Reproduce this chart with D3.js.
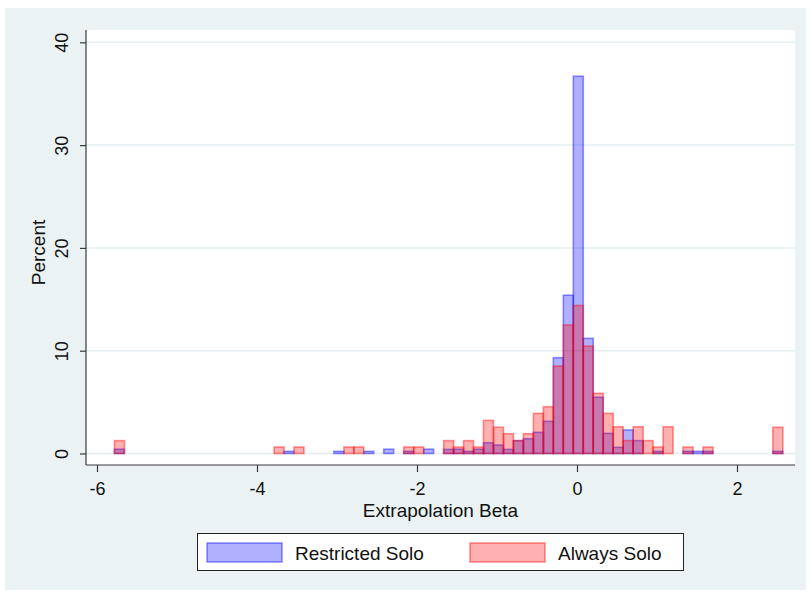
<!DOCTYPE html>
<html>
<head>
<meta charset="utf-8">
<script src="https://cdn.jsdelivr.net/npm/d3@7"></script>
<style>
  html, body { margin: 0; padding: 0; background: #ffffff; }
  svg { display: block; font-family: "Liberation Sans", Arial, Helvetica, sans-serif; }
</style>
</head>
<body>
<svg id="chart" width="810" height="594"></svg>
<script>
// Histogram bins (left edge of each non-empty bin, in beta units)
const binWidth = 0.1247;
const binLeft = [-5.782, -3.787, -3.662, -3.538, -3.039, -2.914, -2.790, -2.665, -2.416, -2.166,
                 -2.041, -1.917, -1.667, -1.543, -1.418, -1.293, -1.169, -1.044, -0.919, -0.795,
                 -0.670, -0.545, -0.420, -0.296, -0.171, -0.046, 0.078, 0.203, 0.328, 0.452,
                 0.577, 0.702, 0.826, 0.951, 1.076, 1.325, 1.450, 1.575, 2.448];

// Percent of observations in each bin
const restrictedSolo = [0.42, 0, 0.21, 0, 0.21, 0, 0, 0.21, 0.42, 0.21,
                        0, 0.42, 0.40, 0.42, 0.21, 0.42, 1.05, 0.83, 0.40, 1.25,
                        1.44, 2.06, 3.13, 9.32, 15.4, 36.7, 11.2, 5.47, 1.96, 0.60,
                        2.29, 1.25, 0, 0.21, 0, 0.21, 0.21, 0.21, 0.21];
const alwaysSolo     = [1.25, 0.63, 0, 0.63, 0, 0.63, 0.63, 0, 0, 0.63,
                        0.63, 0, 1.25, 0.63, 1.25, 0.63, 3.22, 2.55, 1.93, 1.25,
                        1.93, 3.9, 4.55, 8.5, 12.5, 14.4, 10.45, 5.85, 3.9, 2.6,
                        1.25, 2.6, 1.25, 0.63, 2.6, 0.63, 0, 0.63, 2.55];

const seriesNames = ["Restricted Solo", "Always Solo"];
const xTicks = [-6, -4, -2, 0, 2];
const yTicks = [0, 10, 20, 30, 40];

const svg = d3.select("#chart");
const plot = { left: 86, right: 795, top: 30, bottom: 465 };
const axisColor = "#3a3a3a", textColor = "#111";

// graph region background
svg.append("rect")
  .attr("x", 5).attr("y", 8).attr("width", 801).attr("height", 582)
  .attr("fill", "#eaf2f3");

// plot region
svg.append("rect")
  .attr("x", plot.left).attr("y", plot.top)
  .attr("width", plot.right - plot.left).attr("height", plot.bottom - plot.top)
  .attr("fill", "#ffffff");

const x = d3.scaleLinear().domain([-6.1375, 2.725]).range([plot.left, plot.right]);
const y = d3.scaleLinear().domain([-1.12, 41.2]).range([plot.bottom, plot.top]);

// horizontal grid
svg.append("g").selectAll("line").data(yTicks).join("line")
  .attr("x1", plot.left).attr("x2", plot.right)
  .attr("y1", d => y(d)).attr("y2", d => y(d))
  .attr("stroke", "#e4eef0").attr("stroke-width", 1.5);

function drawBars(values, fill, stroke) {
  const data = binLeft.map((b, i) => ({ b, v: values[i] })).filter(d => d.v > 0);
  svg.append("g").selectAll("rect").data(data).join("rect")
    .attr("x", d => x(d.b))
    .attr("width", d => x(d.b + binWidth) - x(d.b))
    .attr("y", d => y(d.v))
    .attr("height", d => y(0) - y(d.v))
    .attr("fill", fill)
    .attr("stroke", stroke)
    .attr("stroke-width", 1.6);
}

const blueFill = "rgba(0,0,255,0.31)", blueStroke = "rgba(0,0,255,0.42)";
const redFill = "rgba(255,0,0,0.31)", redStroke = "rgba(255,0,0,0.42)";

drawBars(restrictedSolo, blueFill, blueStroke);
drawBars(alwaysSolo, redFill, redStroke);

// y axis: ticks from d3, labels rotated to read bottom-to-top
const gy = svg.append("g")
  .attr("transform", `translate(${plot.left},0)`)
  .call(d3.axisLeft(y).tickValues(yTicks).tickSize(6));
gy.select(".domain").attr("d", `M0,${plot.top}V${plot.bottom}`)
  .attr("stroke", axisColor).attr("stroke-width", 1.2);
gy.selectAll(".tick line").attr("stroke", axisColor).attr("stroke-width", 1.2);
gy.selectAll(".tick text")
  .attr("x", 0).attr("y", 0).attr("dy", "0.35em")
  .attr("text-anchor", "middle")
  .attr("transform", "translate(-24,0) rotate(-90)")
  .attr("font-size", 18).attr("fill", textColor);

// x axis
const gx = svg.append("g")
  .attr("transform", `translate(0,${plot.bottom})`)
  .call(d3.axisBottom(x).tickValues(xTicks).tickSize(7).tickPadding(10)
    .tickFormat(d => d < 0 ? "-" + Math.abs(d) : String(d)));
gx.select(".domain").attr("d", `M${plot.left},0H${plot.right}`)
  .attr("stroke", axisColor).attr("stroke-width", 1.2);
gx.selectAll(".tick line").attr("stroke", axisColor).attr("stroke-width", 1.2);
gx.selectAll(".tick text").attr("font-size", 18).attr("fill", textColor);

// axis titles
svg.append("text")
  .attr("transform", `translate(38,${(plot.top + plot.bottom) / 2 + 5}) rotate(-90)`)
  .attr("text-anchor", "middle").attr("dy", "0.35em")
  .attr("font-size", 19).attr("fill", textColor)
  .text("Percent");

svg.append("text")
  .attr("x", (plot.left + plot.right) / 2).attr("y", 517)
  .attr("text-anchor", "middle")
  .attr("font-size", 19).attr("fill", textColor)
  .text("Extrapolation Beta");

// legend
const lg = svg.append("g");
lg.append("rect")
  .attr("x", 197.5).attr("y", 533.5).attr("width", 486).attr("height", 37)
  .attr("fill", "#ffffff").attr("stroke", "#222").attr("stroke-width", 1);
const legendItems = [
  { name: seriesNames[0], fill: blueFill, stroke: blueStroke, sx: 207, tx: 295 },
  { name: seriesNames[1], fill: redFill, stroke: redStroke, sx: 470, tx: 558 }
];
legendItems.forEach(it => {
  lg.append("rect")
    .attr("x", it.sx).attr("y", 543).attr("width", 75).attr("height", 19)
    .attr("fill", it.fill).attr("stroke", it.stroke).attr("stroke-width", 1.6);
  lg.append("text")
    .attr("x", it.tx).attr("y", 559.5)
    .attr("font-size", 19).attr("fill", textColor)
    .text(it.name);
});
</script>
</body>
</html>
